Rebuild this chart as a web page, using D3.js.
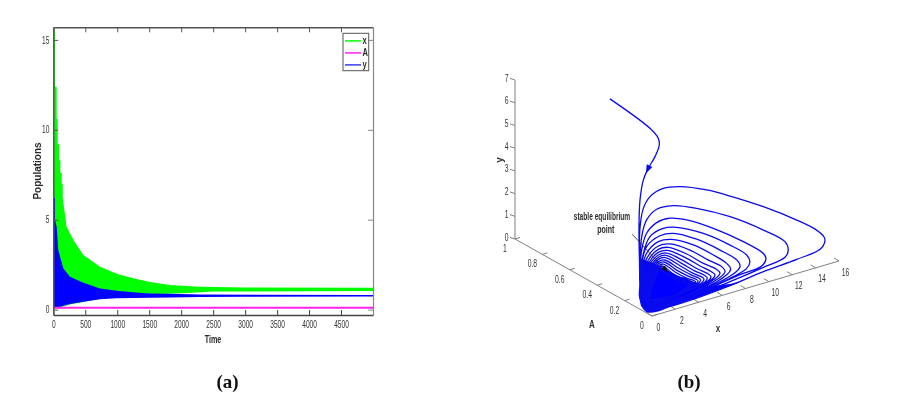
<!DOCTYPE html>
<html>
<head>
<meta charset="utf-8">
<script src="https://cdn.jsdelivr.net/npm/d3@7"></script>
<style>
  html, body { margin: 0; padding: 0; background: #fff; }
  text { font-family: "Liberation Sans", Arial, sans-serif; fill: #2a2a2a; }
  svg { filter: blur(0.3px); }
</style>
</head>
<body>
<div id="chart"></div>
<script>
// ---- panel (a): envelopes of the oscillating populations
var xTicksA = [0, 500, 1000, 1500, 2000, 2500, 3000, 3500, 4000, 4500];
var yTicksA = [0, 5, 10, 15];

var greenTopT = [0, 27, 27, 53, 53, 69, 69, 89, 89, 110, 110, 131, 131, 147, 147, 209, 313, 470, 731, 992, 1247, 1513, 1826, 2296, 3000, 5000];
var greenTopV = [15.6, 15.6, 12.4, 12.4, 10.6, 10.6, 9.2, 9.2, 8.3, 8.3, 7.6, 7.6, 7.0, 7.0, 6.2, 4.6, 3.87, 3.03, 2.38, 2.0, 1.74, 1.54, 1.37, 1.27, 1.23, 1.22];
var greenLowT = [0, 157, 261, 470, 731, 1250, 1800, 2100, 2500, 5000];
var greenLowV = [0.03, 0.17, 0.29, 0.42, 0.6, 0.8, 0.88, 0.92, 1.0, 1.04];

var blueTopT = [0, 27, 27, 53, 78, 157, 261, 470, 731, 992, 1247, 1513, 1826, 2296, 5000];
var blueTopV = [6.2, 6.2, 5.0, 4.6, 3.3, 2.29, 1.83, 1.49, 1.18, 1.05, 0.96, 0.9, 0.88, 0.84, 0.81];
var blueLowT = [0, 50, 157, 261, 470, 731, 992, 1513, 1826, 2296, 3000, 5000];
var blueLowV = [0.05, 0.1, 0.22, 0.31, 0.44, 0.57, 0.63, 0.66, 0.68, 0.7, 0.72, 0.73];

var aTime = [0, 5000];
var aValue = [0.1, 0.1];

var legendNames = ["x", "A", "y"];
var legendColors = ["#00ff00", "#ff22ee", "#3a3aee"];

// ---- panel (b): phase portrait
var xTicksB = [0, 2, 4, 6, 8, 10, 12, 14, 16];
var aTicksB = [0, 0.2, 0.4, 0.6, 0.8, 1];
var yTicksB = [0, 1, 2, 3, 4, 5, 6, 7];

var startX = [3.9, 3.34, 2.88, 2.38, 1.43, 0.62, 0.2, 0.03, 0.06, 0.1, 0, 0.02];
var startA = [0.64, 0.3, 0.2, 0.15, 0.1, 0.08, 0.08, 0.09, 0.1, 0.1, 0.08, 0.04];
var startY = [6.8, 6.74, 6.71, 6.66, 6.46, 6.14, 5.69, 4.8, 3.59, 2.1, 0.65, 0.05];

var trajA = 0.07;
var loopX = [
  [1.79, 4.64, 7.5, 10.35, 13.2, 15.2, 15.62, 15.53, 14.9, 13.2, 10.35, 7.5, 5.5, 3.22, 1.79, 0.65, 0.08, -0.2, -0.26, -0.2, -0.04, 0.5],
  [4.64, 7.5, 10.35, 12.2, 12.48, 12.2, 10.35, 7.5, 4.64, 2.65, 1.22, 0.36, -0.06, -0.2, -0.15, 0.14],
  [8.63, 10.2, 10.57, 10.35, 8.63, 6.07, 3.79, 2.36, 1.22, 0.36, -0.06, -0.2, -0.09, 0.22],
  [7.5, 8.92, 9.2, 8.92, 7.5, 5.21, 2.93, 1.79, 0.65, 0.08, -0.15, 0.02],
  [6.92, 8.35, 8.07, 6.64, 4.64, 2.65, 1.5, 0.36, -0.09, -0.12, 0.08],
  [6.35, 7.55, 7.2, 6.07, 4.36, 2.5, 1.36, 0.36, -0.03, -0.03, 0.14],
  [5.93, 7.07, 6.78, 5.64, 4.07, 2.36, 1.36, 0.42, 0.02, 0.02, 0.2],
  [5.64, 6.64, 6.3, 5.21, 3.79, 2.22, 1.36, 0.51, 0.08, 0.08],
  [5.35, 6.21, 5.9, 4.93, 3.64, 2.13, 1.36, 0.59, 0.14, 0.14],
  [5.07, 5.87, 5.55, 4.64, 3.5, 2.08, 1.36, 0.65, 0.22, 0.22],
  [4.87, 5.55, 5.27, 4.5, 3.36, 2.02, 1.36, 0.71, 0.28, 0.28],
  [4.64, 5.27, 4.99, 4.3, 3.22, 1.96, 1.36, 0.76, 0.36, 0.36],
  [4.41, 4.98, 4.76, 4.13, 3.07, 1.9, 1.36, 0.82, 0.42, 0.42],
  [4.24, 4.76, 4.53, 3.96, 2.93, 1.85, 1.36, 0.88, 0.48, 0.48],
  [4.07, 4.56, 4.36, 3.79, 2.79, 1.79, 1.36, 0.93, 0.53, 0.53],
  [3.93, 4.36, 4.16, 3.64, 2.65, 1.73, 1.36, 1.0, 0.59, 0.59],
  [3.78, 4.18, 3.98, 3.5, 2.5, 1.68, 1.36, 1.05, 0.65, 0.65],
  [3.64, 4.0, 3.84, 3.36, 2.43, 1.62, 1.36, 1.1, 0.71, 0.71]
];
var loopY = [
  [-0.17, -0.15, -0.04, 0.15, 0.26, 0.40, 0.71, 0.90, 1.29, 1.99, 3.01, 3.91, 4.48, 4.97, 5.11, 4.92, 4.49, 3.73, 2.56, 1.38, 0.40, -0.12],
  [-0.02, 0.14, 0.34, 0.50, 0.78, 1.19, 1.98, 3.0, 3.80, 4.22, 4.28, 3.94, 3.27, 2.11, 1.08, 0.08],
  [0.33, 0.42, 0.70, 0.95, 1.73, 2.70, 3.42, 3.71, 3.69, 3.35, 2.68, 1.67, 0.63, -0.01],
  [0.29, 0.51, 0.76, 1.10, 1.75, 2.61, 3.22, 3.35, 3.16, 2.51, 1.52, 0.32],
  [0.30, 0.67, 1.01, 1.66, 2.44, 3.0, 3.07, 2.76, 1.95, 1.07, 0.16],
  [0.31, 0.67, 0.99, 1.53, 2.23, 2.76, 2.83, 2.47, 1.79, 0.76, 0.08],
  [0.33, 0.64, 0.91, 1.37, 2.05, 2.58, 2.64, 2.28, 1.64, 0.61, 0.03],
  [0.35, 0.64, 0.88, 1.29, 1.92, 2.45, 2.49, 2.15, 1.48, 0.53],
  [0.36, 0.63, 0.82, 1.22, 1.79, 2.33, 2.36, 2.04, 1.40, 0.45],
  [0.36, 0.60, 0.80, 1.15, 1.67, 2.22, 2.24, 1.94, 1.31, 0.36],
  [0.36, 0.59, 0.77, 1.06, 1.57, 2.13, 2.14, 1.84, 1.23, 0.31],
  [0.37, 0.59, 0.75, 1.0, 1.49, 2.04, 2.05, 1.75, 1.15, 0.26],
  [0.39, 0.59, 0.73, 0.96, 1.41, 1.94, 1.95, 1.65, 1.06, 0.21],
  [0.40, 0.58, 0.71, 0.91, 1.34, 1.86, 1.86, 1.57, 0.98, 0.17],
  [0.41, 0.57, 0.67, 0.86, 1.28, 1.78, 1.77, 1.48, 0.90, 0.12],
  [0.42, 0.56, 0.64, 0.83, 1.21, 1.70, 1.68, 1.40, 0.82, 0.08],
  [0.42, 0.55, 0.63, 0.80, 1.15, 1.62, 1.60, 1.32, 0.73, 0.04],
  [0.43, 0.55, 0.60, 0.76, 1.09, 1.54, 1.51, 1.24, 0.65, 0.01]
];
// outline of the part where the spiral is packed solid
var denseX = [-0.26, 0.91, 1.76, 3.22, 3.64, 4.36, 5.78, 7.5, 8.78, 7.5, 4.64, 2.19, 0.65, 0.08, -0.18, -0.29];
var denseY = [2.34, 1.96, 1.61, 0.99, 0.91, 0.61, 0.21, 0.04, 0.02, -0.04, -0.15, -0.16, -0.15, 0.16, 0.71, 1.61];

var width = 906, height = 400;
var svg = d3.select("#chart").append("svg")
    .attr("width", width).attr("height", height)
    .style("display", "block");

// the source labels are tall and narrow
function squeeze(sel, k) {
  sel.each(function() {
    var w = this.getComputedTextLength();
    d3.select(this).attr("textLength", w * k).attr("lengthAdjust", "spacingAndGlyphs");
  });
}

function zip2(a, b) { return a.map(function(d, i) { return [d, b[i]]; }); }

// ---------------- panel (a)
var x = d3.scaleLinear().domain([0, 5000]).range([53.3, 373]);
var y = d3.scaleLinear().domain([-0.3, 15.7]).range([315, 27.3]);

function envelope(topT, topV, lowT, lowV) {
  var top = zip2(topT, topV), low = zip2(lowT, lowV).reverse();
  return d3.line().x(function(d) { return x(d[0]); }).y(function(d) { return y(d[1]); })(top.concat(low)) + "Z";
}

var panelA = svg.append("g");
panelA.append("path").attr("d", envelope(greenTopT, greenTopV, greenLowT, greenLowV)).attr("fill", "#00ff00");
panelA.append("path").attr("d", envelope(blueTopT, blueTopV, blueLowT, blueLowV)).attr("fill", "#0000ff");
panelA.append("path")
    .attr("d", d3.line().x(function(d) { return x(d[0]); }).y(function(d) { return y(d[1]); })(zip2(aTime, aValue)))
    .attr("fill", "none").attr("stroke", "#ff22ee").attr("stroke-width", 2);

function styleAxis(g, color, w) {
  g.select(".domain").attr("stroke", color).attr("stroke-width", w);
  g.selectAll(".tick line").attr("stroke", color).attr("stroke-width", 1);
}

var bottomAxis = panelA.append("g").attr("transform", "translate(0," + y.range()[0] + ")")
    .call(d3.axisBottom(x).tickValues(xTicksA).tickFormat(d3.format("d")).tickSizeInner(-5).tickSizeOuter(0).tickPadding(6));
var topAxis = panelA.append("g").attr("transform", "translate(0," + y.range()[1] + ")")
    .call(d3.axisTop(x).tickValues(xTicksA).tickFormat("").tickSizeInner(-5).tickSizeOuter(0));
var leftAxis = panelA.append("g").attr("transform", "translate(" + x.range()[0] + ",0)")
    .call(d3.axisLeft(y).tickValues(yTicksA).tickSizeInner(-5).tickSizeOuter(0).tickPadding(4));
var rightAxis = panelA.append("g").attr("transform", "translate(" + x.range()[1] + ",0)")
    .call(d3.axisRight(y).tickValues(yTicksA).tickFormat("").tickSizeInner(-5).tickSizeOuter(0));
styleAxis(bottomAxis, "#444", 1.5);
styleAxis(topAxis, "#555", 1.5);
styleAxis(leftAxis, "#555", 1.5);
styleAxis(rightAxis, "#888", 1.2);
[bottomAxis, leftAxis].forEach(function(a) {
  a.selectAll(".tick text").attr("font-size", 10).attr("font-family", "Liberation Sans").style("fill", "#333");
  squeeze(a.selectAll(".tick text"), 0.66);
});

panelA.append("text").attr("x", 213).attr("y", 343).attr("text-anchor", "middle")
    .attr("font-size", 10).attr("font-weight", "bold").text("Time").call(squeeze, 0.72);
panelA.append("text").attr("transform", "translate(41,171) rotate(-90)").attr("text-anchor", "middle")
    .attr("font-size", 10).attr("font-weight", "bold").text("Populations");

var legend = panelA.append("g").attr("transform", "translate(343,33.3)");
legend.append("rect").attr("width", 25.7).attr("height", 37.4).attr("fill", "#fff").attr("stroke", "#555").attr("stroke-width", 1);
legendNames.forEach(function(d, i) {
  var row = legend.append("g").attr("transform", "translate(2," + (7.6 + i * 12) + ")");
  row.append("line").attr("x1", 0).attr("x2", 16).attr("stroke", legendColors[i]).attr("stroke-width", 1.5);
  row.append("text").attr("x", 17.5).attr("y", 3.5).attr("font-size", 10).attr("font-weight", "bold").text(d).call(squeeze, 0.75);
});

// ---------------- panel (b), an oblique view of the three axes
var xRunX = d3.scaleLinear().domain([0, 16]).range([0, 187]);
var xRunY = d3.scaleLinear().domain([0, 16]).range([0, -55]);
var aPosX = d3.scaleLinear().domain([0, 1]).range([652, 515]);
var aPosY = d3.scaleLinear().domain([0, 1]).range([316, 239]);
var yRise = d3.scaleLinear().domain([0, 7]).range([0, -159]);

function project(p) {
  return [aPosX(p[1]) + xRunX(p[0]), aPosY(p[1]) + xRunY(p[0]) + yRise(p[2])];
}

var panelB = svg.append("g");
var axisLine = d3.line();
var axisColor = "#808080";

function drawAxis(from, to) {
  panelB.append("path").attr("d", axisLine([project(from), project(to)]))
      .attr("fill", "none").attr("stroke", axisColor).attr("stroke-width", 1);
}
drawAxis([0, 1, 0], [0, 1, 7]);
drawAxis([0, 0, 0], [0, 1, 0]);
drawAxis([0, 0, 0], [16, 0, 0]);

function drawTick(p, dx, dy, label, lx, ly) {
  var s = project(p);
  panelB.append("line").attr("x1", s[0]).attr("y1", s[1]).attr("x2", s[0] + dx).attr("y2", s[1] + dy)
      .attr("stroke", axisColor).attr("stroke-width", 1);
  panelB.append("text").attr("x", s[0] + lx).attr("y", s[1] + ly).attr("text-anchor", "middle")
      .attr("font-size", 10).style("fill", "#333").text(label).call(squeeze, 0.68);
}
yTicksB.forEach(function(d) { drawTick([0, 1, d], -5, -1.6, d, -8.3, 1.5); });
aTicksB.forEach(function(d) { drawTick([0, d, 0], 5, -1.5, d, -10, 13); });
xTicksB.forEach(function(d) { drawTick([d, 0, 0], -5, -3, d, 6.5, 14.5); });

panelB.append("text").attr("x", 592).attr("y", 327.5).attr("text-anchor", "middle").attr("font-size", 10).attr("font-weight", "bold").style("fill", "#333").text("A").call(squeeze, 0.8);
panelB.append("text").attr("x", 718).attr("y", 332).attr("text-anchor", "middle").attr("font-size", 10).attr("font-weight", "bold").style("fill", "#333").text("x").call(squeeze, 0.8);
panelB.append("text").attr("transform", "translate(503,160) rotate(-90)").attr("text-anchor", "middle").attr("font-size", 10).attr("font-weight", "bold").style("fill", "#333").text("y");

var start = startX.map(function(d, i) { return [d, startA[i], startY[i]]; });
var loops = loopX.map(function(xs, i) {
  return xs.map(function(d, j) { return [d, trajA, loopY[i][j]]; });
});
var trajectory = start.concat(d3.merge(loops));
var dense = denseX.map(function(d, i) { return [d, trajA, denseY[i]]; });

panelB.append("path")
    .attr("d", d3.line()(dense.map(project)) + "Z")
    .attr("fill", "#0000ff");
panelB.append("path")
    .attr("d", d3.line().curve(d3.curveCatmullRom.alpha(0.5))(trajectory.map(project)))
    .attr("fill", "none").attr("stroke", "#0a0aee").attr("stroke-width", 1.3);

// direction arrow on the first leg of the trajectory
var arrowAt = project(start[5]);
panelB.append("path").attr("d", d3.symbol().type(d3.symbolTriangle).size(26)())
    .attr("transform", "translate(" + arrowAt[0] + "," + arrowAt[1] + ") rotate(205) scale(0.8,1.3)")
    .attr("fill", "#0a0aee");

// annotation
panelB.append("text").attr("x", 602).attr("y", 220).attr("text-anchor", "middle")
    .attr("font-size", 10).attr("font-weight", "bold").text("stable equilibrium").call(squeeze, 0.66);
panelB.append("text").attr("x", 605.7).attr("y", 232.5).attr("text-anchor", "middle")
    .attr("font-size", 10).attr("font-weight", "bold").text("point").call(squeeze, 0.7);
panelB.append("line").attr("x1", 632.3).attr("y1", 234.3).attr("x2", 664).attr("y2", 268.5)
    .attr("stroke", "#222").attr("stroke-width", 0.8);
panelB.append("path").attr("d", d3.symbol().type(d3.symbolTriangle).size(16)())
    .attr("transform", "translate(665,269) rotate(137) scale(0.75,1.5)")
    .attr("fill", "#111");

// captions
[["(a)", 227.5], ["(b)", 689]].forEach(function(c) {
  svg.append("text").attr("x", c[1]).attr("y", 388).attr("text-anchor", "middle")
      .attr("font-size", 19).attr("font-weight", "bold")
      .style("font-family", "'Liberation Serif', serif").style("fill", "#111").text(c[0]);
});
</script>
</body>
</html>
